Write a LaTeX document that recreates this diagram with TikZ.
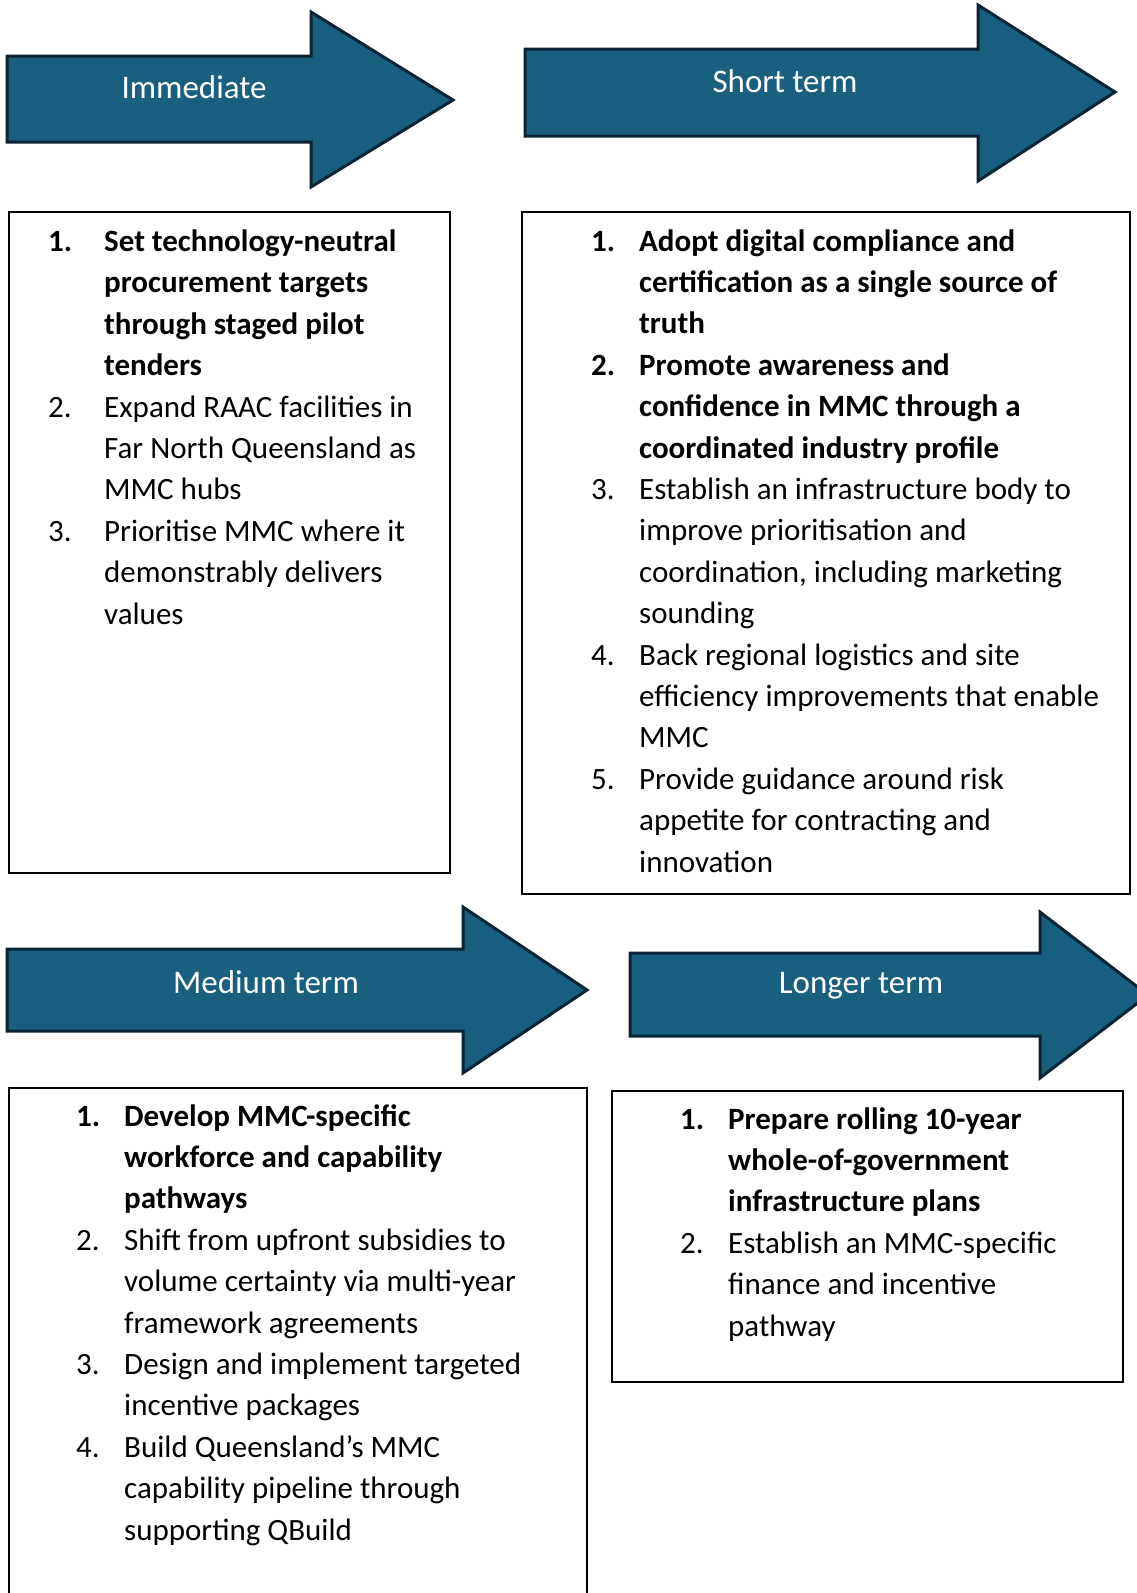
\documentclass[tikz,border=0pt]{standalone}
\usepackage{fontspec}
\setmainfont{Carlito}
\usetikzlibrary{positioning}

\definecolor{phasefill}{RGB}{24,95,128}
\definecolor{phaseline}{RGB}{10,36,51}

% number column of the action lists
\newcommand{\inum}[2][48pt]{\makebox[#1][l]{#2}}

\begin{document}
\begin{tikzpicture}[x=1pt, y=-1pt,
  phase/.style={draw=phaseline, fill=phasefill, line width=3pt, line join=miter},
  phaselabel/.style={text=white, inner sep=0pt, font=\fontsize{33}{40}\selectfont},
  listbox/.style={draw=black, line width=2pt, inner sep=0pt, anchor=north west},
  % anchored on the baseline of the last line
  listtext/.style={inner sep=0pt, anchor=base west, align=left, font=\fontsize{31}{41.4}\selectfont}]

\useasboundingbox (0,0) rectangle (1137,1593);
\clip (0,0) rectangle (1137,1593);

% phase arrows
\draw[phase] (7,56) -- (311,56) -- (311,12) -- (453,100) -- (311,187) -- (311,142) -- (7,142) -- cycle;
\draw[phase] (525,49) -- (978,49) -- (978,5) -- (1115,92) -- (978,181) -- (978,136) -- (525,136) -- cycle;
\draw[phase] (7,949) -- (463,949) -- (463,907) -- (587,990) -- (463,1073) -- (463,1031) -- (7,1031) -- cycle;
\draw[phase] (630,953) -- (1040,953) -- (1040,912) -- (1148,995) -- (1040,1078) -- (1040,1036) -- (630,1036) -- cycle;

\node[phaselabel] (immediate) at (194,87) {Immediate};
\node[phaselabel] (short) at (785,81) {Short term};
\node[phaselabel] (medium) at (266,982) {Medium term};
\node[phaselabel] (longer) at (861,986) {Longer term};

% boxes
\node[listbox, minimum width=441pt, minimum height=661pt] (immbox) at (8,211) {};
\node[listbox, minimum width=608pt, minimum height=682pt] (shortbox) at (521,211) {};
\node[listbox, minimum width=578pt, minimum height=543pt] (medbox) at (8,1087) {};
\node[listbox, minimum width=511pt, minimum height=291pt] (longbox) at (611,1090) {};

% action lists
\node[listtext] (immlist) at (48,624) {%
  \inum[56pt]{\textbf{1.}}\textbf{Set technology-neutral}\\
  \inum[56pt]{}\textbf{procurement targets}\\
  \inum[56pt]{}\textbf{through staged pilot}\\
  \inum[56pt]{}\textbf{tenders}\\
  \inum[56pt]{2.}Expand RAAC facilities in\\
  \inum[56pt]{}Far North Queensland as\\
  \inum[56pt]{}MMC hubs\\
  \inum[56pt]{3.}Prioritise MMC where it\\
  \inum[56pt]{}demonstrably delivers\\
  \inum[56pt]{}values};

\node[listtext] (shortlist) at (591,872) {%
  \inum{\textbf{1.}}\textbf{Adopt digital compliance and}\\
  \inum{}\textbf{certification as a single source of}\\
  \inum{}\textbf{truth}\\
  \inum{\textbf{2.}}\textbf{Promote awareness and}\\
  \inum{}\textbf{confidence in MMC through a}\\
  \inum{}\textbf{coordinated industry profile}\\
  \inum{3.}Establish an infrastructure body to\\
  \inum{}improve prioritisation and\\
  \inum{}coordination, including marketing\\
  \inum{}sounding\\
  \inum{4.}Back regional logistics and site\\
  \inum{}efficiency improvements that enable\\
  \inum{}MMC\\
  \inum{5.}Provide guidance around risk\\
  \inum{}appetite for contracting and\\
  \inum{}innovation};

\node[listtext] (medlist) at (76,1540) {%
  \inum{\textbf{1.}}\textbf{Develop MMC-specific}\\
  \inum{}\textbf{workforce and capability}\\
  \inum{}\textbf{pathways}\\
  \inum{2.}Shift from upfront subsidies to\\
  \inum{}volume certainty via multi-year\\
  \inum{}framework agreements\\
  \inum{3.}Design and implement targeted\\
  \inum{}incentive packages\\
  \inum{4.}Build Queensland’s MMC\\
  \inum{}capability pipeline through\\
  \inum{}supporting QBuild};

\node[listtext] (longlist) at (680,1336) {%
  \inum{\textbf{1.}}\textbf{Prepare rolling 10-year}\\
  \inum{}\textbf{whole-of-government}\\
  \inum{}\textbf{infrastructure plans}\\
  \inum{2.}Establish an MMC-specific\\
  \inum{}finance and incentive\\
  \inum{}pathway};
\end{tikzpicture}
\end{document}
